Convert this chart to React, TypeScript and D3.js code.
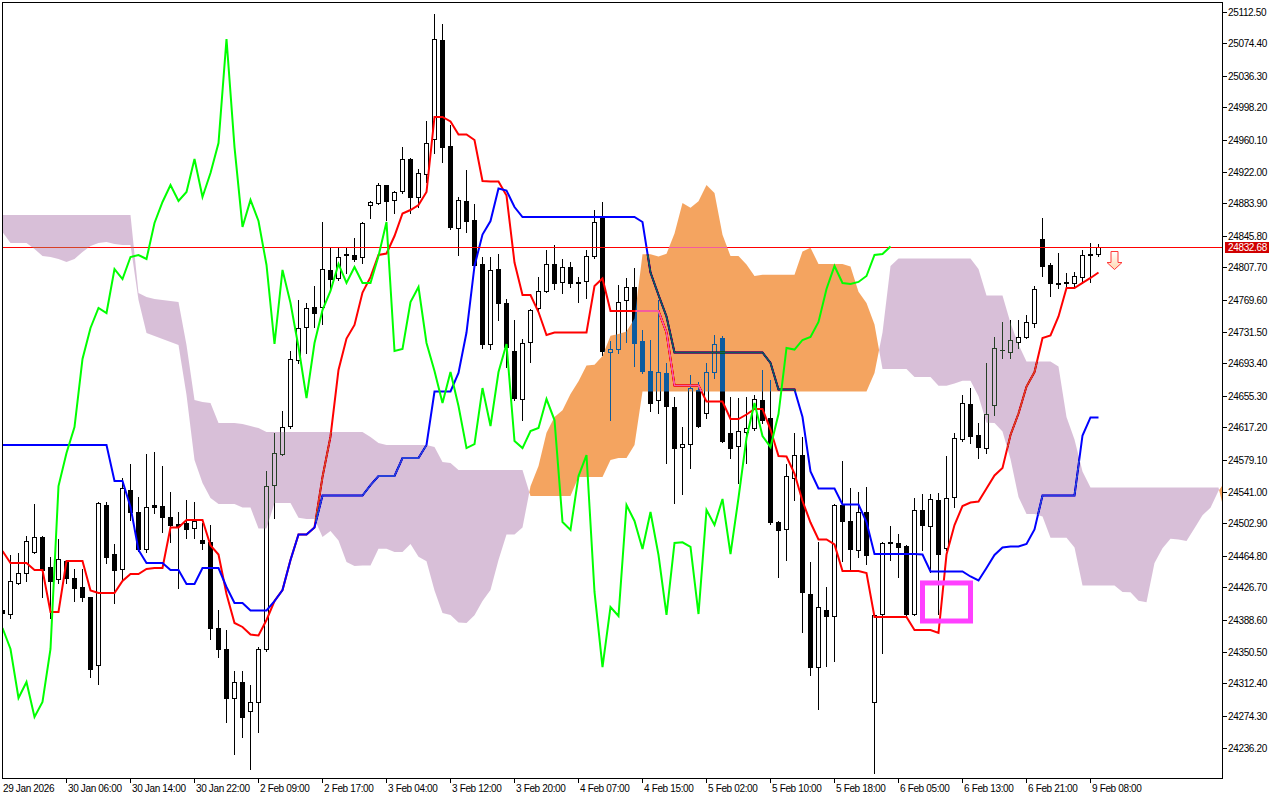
import React from "react";
import * as d3 from "d3";

// ---------- Candles (H1), bar 0 = 29 Jan 2026 22:00 ----------
const OPEN = [
  24399.9, 24395.1, 24432.1, 24444.0, 24469.0, 24486.8, 24451.1, 24436.8, 24458.3, 24438.0,
  24427.3, 24415.4, 24334.4, 24524.9, 24466.6, 24448.7, 24542.7, 24516.6, 24472.6, 24524.9,
  24523.8, 24510.7, 24502.3, 24503.5, 24497.6, 24483.3, 24480.9, 24378.5, 24353.5, 24295.1,
  24314.2, 24279.7, 24290.4, 24353.5, 24548.7, 24585.6, 24618.9, 24697.6, 24736.9, 24760.7,
  24760.7, 24804.8, 24795.2, 24823.8, 24822.6, 24820.2, 24882.1, 24884.5, 24905.9, 24888.1,
  24898.8, 24936.9, 24891.6, 24919.0, 24960.7, 25078.6, 24952.3, 24854.8, 24886.9, 24864.3,
  24811.9, 24716.6, 24805.9, 24765.4, 24708.3, 24651.1, 24719.0, 24759.5, 24779.8, 24811.9,
  24790.5, 24808.3, 24790.5, 24791.7, 24821.4, 24867.9, 24707.1, 24710.7, 24769.0, 24784.5,
  24720.2, 24684.5, 24649.9, 24682.1, 24641.6, 24593.9, 24597.5, 24661.8, 24634.4, 24683.3,
  24723.8, 24610.6, 24595.1, 24611.8, 24616.6, 24649.9, 24628.5, 24504.7, 24496.4, 24557.0,
  24584.4, 24419.0, 24332.0, 24399.9, 24392.8, 24524.9, 24505.9, 24471.4, 24516.6, 24290.4,
  24395.1, 24479.7, 24479.7, 24476.2, 24395.1, 24519.0, 24499.9, 24530.9, 24473.8, 24534.4,
  24603.5, 24645.1, 24608.2, 24592.7, 24644.0, 24709.5, 24707.1, 24719.0, 24725.0, 24741.6,
  24841.7, 24810.7, 24789.3, 24789.3, 24789.3, 24796.4, 24822.6, 24823.8,
];
const HIGH = [
  24404.7, 24465.4, 24467.8, 24488.0, 24526.1, 24488.0, 24463.0, 24484.5, 24460.0, 24448.7,
  24448.7, 24415.4, 24528.5, 24528.5, 24478.5, 24557.0, 24573.7, 24534.4, 24585.6, 24588.0,
  24571.3, 24540.4, 24516.6, 24530.9, 24528.5, 24503.5, 24501.1, 24399.9, 24376.1, 24327.3,
  24327.3, 24310.6, 24355.8, 24565.4, 24610.6, 24636.8, 24708.3, 24769.0, 24765.4, 24785.7,
  24861.9, 24832.1, 24832.1, 24832.1, 24842.9, 24861.9, 24886.5, 24908.3, 24906.5, 24898.8,
  24951.1, 24938.1, 24925.0, 24982.1, 25109.5, 25097.6, 24977.3, 24891.6, 24923.8, 24883.3,
  24820.2, 24820.2, 24823.8, 24770.2, 24745.2, 24722.6, 24758.0, 24796.4, 24828.6, 24834.5,
  24817.9, 24814.3, 24796.4, 24828.6, 24876.2, 24885.7, 24720.2, 24786.9, 24795.2, 24807.1,
  24733.3, 24721.4, 24769.0, 24694.0, 24653.5, 24617.8, 24679.7, 24671.3, 24694.0, 24727.3,
  24726.1, 24653.5, 24652.3, 24653.5, 24655.9, 24685.7, 24673.7, 24505.5, 24573.7, 24610.6,
  24605.9, 24457.1, 24480.9, 24427.3, 24526.1, 24577.3, 24545.1, 24540.4, 24546.3, 24395.0,
  24480.5, 24499.9, 24490.4, 24477.4, 24533.3, 24538.0, 24538.0, 24539.2, 24583.2, 24610.6,
  24655.9, 24664.2, 24622.5, 24694.0, 24725.0, 24742.8, 24745.2, 24745.2, 24751.1, 24785.7,
  24866.7, 24813.1, 24825.0, 24801.2, 24802.4, 24828.6, 24837.0, 24835.8,
];
const LOW = [
  24392.8, 24390.4, 24430.9, 24434.5, 24467.8, 24415.4, 24390.4, 24432.1, 24432.1, 24410.6,
  24410.6, 24320.1, 24311.8, 24455.9, 24408.2, 24436.8, 24507.1, 24470.2, 24469.0, 24515.4,
  24492.8, 24480.9, 24426.1, 24485.7, 24485.7, 24472.6, 24365.4, 24343.9, 24266.6, 24228.5,
  24248.7, 24210.6, 24254.7, 24351.1, 24509.5, 24584.4, 24616.6, 24694.0, 24705.9, 24736.9,
  24740.4, 24782.1, 24792.9, 24801.2, 24815.5, 24813.1, 24866.7, 24883.3, 24864.3, 24872.6,
  24896.4, 24872.6, 24879.8, 24909.5, 24944.0, 24933.3, 24853.6, 24822.6, 24850.0, 24809.5,
  24711.9, 24710.7, 24745.2, 24689.2, 24649.9, 24626.1, 24695.2, 24757.1, 24778.6, 24782.1,
  24777.4, 24784.5, 24766.6, 24771.4, 24819.0, 24703.5, 24626.1, 24705.9, 24719.0, 24690.4,
  24682.1, 24636.8, 24634.4, 24574.9, 24527.3, 24538.0, 24568.9, 24617.8, 24628.5, 24676.1,
  24599.9, 24580.8, 24551.1, 24574.9, 24614.2, 24622.5, 24502.3, 24439.2, 24459.5, 24530.9,
  24373.7, 24322.5, 24282.1, 24333.2, 24339.2, 24458.3, 24448.7, 24463.0, 24454.7, 24205.9,
  24348.7, 24459.5, 24439.2, 24391.6, 24394.0, 24471.4, 24445.2, 24395.1, 24471.4, 24522.6,
  24601.1, 24598.7, 24580.8, 24586.8, 24632.0, 24699.9, 24699.9, 24711.9, 24723.8, 24736.9,
  24797.6, 24773.8, 24783.3, 24784.5, 24783.3, 24789.3, 24790.5, 24821.4,
];
const CLOSE = [
  24396.3, 24434.5, 24444.0, 24482.1, 24486.8, 24447.6, 24434.5, 24460.7, 24438.0, 24426.1,
  24415.4, 24329.6, 24527.3, 24463.0, 24447.6, 24545.1, 24516.6, 24472.6, 24522.6, 24522.6,
  24510.7, 24501.1, 24499.9, 24496.4, 24505.9, 24479.7, 24378.5, 24353.5, 24295.1, 24314.2,
  24272.6, 24290.4, 24353.5, 24547.5, 24586.8, 24617.8, 24698.8, 24735.7, 24759.5, 24753.5,
  24805.9, 24794.0, 24820.2, 24822.6, 24817.9, 24860.7, 24885.7, 24905.9, 24886.9, 24897.6,
  24936.9, 24891.6, 24920.2, 24955.9, 25079.8, 24951.1, 24856.0, 24888.1, 24863.1, 24810.7,
  24716.6, 24804.8, 24765.4, 24713.0, 24652.3, 24717.8, 24757.1, 24779.8, 24811.9, 24789.3,
  24808.3, 24789.3, 24789.3, 24821.4, 24861.9, 24708.3, 24710.7, 24766.6, 24784.5, 24717.8,
  24684.5, 24646.3, 24683.3, 24642.8, 24592.7, 24597.5, 24664.2, 24618.9, 24683.3, 24716.6,
  24601.1, 24592.7, 24613.0, 24616.6, 24651.1, 24626.1, 24504.7, 24495.2, 24559.4, 24584.4,
  24421.4, 24332.0, 24403.5, 24392.8, 24524.9, 24505.9, 24472.6, 24516.6, 24465.4, 24394.0,
  24479.7, 24480.5, 24475.0, 24395.1, 24519.0, 24501.1, 24532.1, 24466.6, 24533.3, 24604.7,
  24646.3, 24607.1, 24593.9, 24633.2, 24711.9, 24710.0, 24721.4, 24725.0, 24742.8, 24782.1,
  24809.5, 24789.3, 24788.1, 24790.5, 24797.6, 24822.6, 24823.8, 24832.68,
];

// ---------- Ichimoku values that depend on bars before the visible window ----------
const TENKAN_PRIOR = [24470.2, 24455.9, 24455.9, 24455.9, 24447.6, 24447.6, 24397.5, 24397.5];
const KIJUN_PRIOR = [
  24596.3, 24596.3, 24596.3, 24596.3, 24596.3, 24596.3, 24596.3, 24596.3, 24596.3, 24596.3,
  24596.3, 24596.3, 24596.3, 24596.3, 24553.5, 24553.5, 24522.6, 24471.4, 24455.9, 24455.9,
  24455.9, 24447.6, 24447.6, 24430.9, 24430.9,
];
const SPAN_A_PRIOR = [
  24850.0, 24836.9, 24836.9, 24836.9, 24829.8, 24821.4, 24820.2, 24817.9, 24814.3, 24817.9,
  24826.2, 24833.3, 24836.9, 24838.1, 24835.7, 24834.5, 24834.5, 24769.0, 24729.7, 24726.1,
  24722.6, 24719.0, 24715.5, 24655.9, 24578.5, 24551.1,
];
const SPAN_B_PRIOR = [
  24870.2, 24870.2, 24870.2, 24870.2, 24870.2, 24870.2, 24870.2, 24870.2, 24870.2, 24870.2,
  24870.2, 24870.2, 24870.2, 24870.2, 24870.2, 24870.2, 24870.2, 24777.4, 24772.6, 24770.2,
  24769.0, 24767.8, 24766.6, 24715.5, 24649.9, 24647.5, 24646.3, 24622.5, 24622.5, 24622.5,
  24621.3, 24618.9, 24616.6, 24611.8, 24611.8, 24611.8, 24611.8, 24611.8, 24611.8, 24611.8,
  24611.8, 24611.8, 24611.8, 24611.8, 24611.8, 24611.8, 24605.9, 24598.7, 24596.3, 24596.3,
  24596.3, 24596.3, 24596.3, 24596.3, 24593.9, 24576.1, 24574.9, 24566.6, 24566.6, 24566.6,
  24566.6, 24566.6, 24566.6, 24566.6, 24566.6, 24566.6, 24535.7, 24535.7, 24535.7, 24535.7,
  24535.7, 24535.7, 24558.2, 24558.2, 24558.2, 24558.2, 24578.5,
];

// ---------- Axes ----------
const PRICE_TICKS = [
  25112.5, 25074.4, 25036.3, 24998.2, 24960.1, 24922.0, 24883.9, 24845.8, 24807.7, 24769.6,
  24731.5, 24693.4, 24655.3, 24617.2, 24579.1, 24541.0, 24502.9, 24464.8, 24426.7, 24388.6,
  24350.5, 24312.4, 24274.3, 24236.2,
];
const TIME_TICK_BARS = [0, 8, 16, 24, 32, 40, 48, 56, 64, 72, 80, 88, 96, 104, 112, 120, 128, 136];
const TIME_TICK_LABELS = [
  "29 Jan 2026", "30 Jan 06:00", "30 Jan 14:00", "30 Jan 22:00", "2 Feb 09:00", "2 Feb 17:00",
  "3 Feb 04:00", "3 Feb 12:00", "3 Feb 20:00", "4 Feb 07:00", "4 Feb 15:00", "5 Feb 02:00",
  "5 Feb 10:00", "5 Feb 18:00", "6 Feb 05:00", "6 Feb 13:00", "6 Feb 21:00", "9 Feb 08:00",
];
const LAST_PRICE = 24832.68;
const BOX_BARS = [115, 121];
const BOX_PRICES = [24432.1, 24386.8];
const ARROW_BAR = 139;
const ARROW_PRICE = 24827.4;

// ---------- Layout ----------
const W = 1280;
const H = 800;
const PLOT_R = 1222;
const PLOT_B = 778;
const FONT = "'Liberation Sans', Arial, sans-serif";

const x = d3.scaleLinear().domain([0, 1]).range([2.5, 10.5]);
const y = d3.scaleLinear().domain([24236.2, 25112.5]).range([747.5, 11.5]);

const hh = (a: number, b: number) => d3.max(HIGH.slice(a, b + 1)) as number;
const ll = (a: number, b: number) => d3.min(LOW.slice(a, b + 1)) as number;

const N = CLOSE.length;
const tenkan = d3.range(N).map((i) => (i < 8 ? TENKAN_PRIOR[i] : (hh(i - 8, i) + ll(i - 8, i)) / 2));
const kijun = d3.range(N).map((i) => (i < 25 ? KIJUN_PRIOR[i] : (hh(i - 25, i) + ll(i - 25, i)) / 2));
const M = N + 26;
const spanA = d3.range(M).map((k) => (k < 26 ? SPAN_A_PRIOR[k] : (tenkan[k - 26] + kijun[k - 26]) / 2));
const spanB = d3.range(M).map((k) => (k < 77 ? SPAN_B_PRIOR[k] : (hh(k - 77, k - 26) + ll(k - 77, k - 26)) / 2));
const chikou = d3.range(N - 26).map((k) => CLOSE[k + 26]);

type CP = { k: number; a: number; b: number };
function buildRuns(A: number[], B: number[]) {
  const runs: { bull: boolean; pts: CP[] }[] = [];
  let bull = A[0] >= B[0];
  let pts: CP[] = [{ k: 0, a: A[0], b: B[0] }];
  for (let i = 1; i < A.length; i++) {
    const d0 = A[i - 1] - B[i - 1];
    const d1 = A[i] - B[i];
    const b1 = d1 >= 0;
    if (b1 !== bull) {
      const t = d0 === d1 ? 0 : d0 / (d0 - d1);
      const kc = i - 1 + t;
      const vc = A[i - 1] + (A[i] - A[i - 1]) * t;
      pts.push({ k: kc, a: vc, b: vc });
      runs.push({ bull, pts });
      pts = [{ k: kc, a: vc, b: vc }];
      bull = b1;
    }
    pts.push({ k: i, a: A[i], b: B[i] });
  }
  runs.push({ bull, pts });
  return runs;
}

const cloudRuns = buildRuns(spanA, spanB);
const runPath = (pts: CP[]) => {
  const top = pts.map((p) => [x(p.k), y(p.a)]);
  const bot = pts.slice().reverse().map((p) => [x(p.k), y(p.b)]);
  return "M" + [...top, ...bot].map((p) => p[0].toFixed(2) + "," + p[1].toFixed(2)).join("L") + "Z";
};

const lineGen = d3
  .line<number>()
  .x((_, i) => x(i))
  .y((d) => y(d));

export default function App() {
  const lastRow = Math.round(y(LAST_PRICE));
  const ax = x(ARROW_BAR);
  const ay = Math.round(y(ARROW_PRICE));
  const bx0 = x(BOX_BARS[0]);
  const bx1 = x(BOX_BARS[1]);
  const by0 = y(BOX_PRICES[0]);
  const by1 = y(BOX_PRICES[1]);

  return (
    <div style={{ position: "absolute", left: 0, top: 0, width: W, height: H, background: "#fff" }}>
      <svg width={W} height={H} style={{ display: "block" }}>
        <defs>
          <clipPath id="plotClip">
            <rect x={3} y={3} width={PLOT_R - 3} height={PLOT_B - 3} />
          </clipPath>
          <linearGradient id="arrowFill" x1="0" y1="0" x2="0" y2="1">
            <stop offset="0" stopColor="#ffffff" />
            <stop offset="1" stopColor="#ffd7b0" />
          </linearGradient>
        </defs>
        <rect x={0} y={0} width={W} height={H} fill="#ffffff" />

        <g clipPath="url(#plotClip)">
          {/* opaque white backdrop inside the clipped group so the blend has something to work on */}
          <rect x={0} y={0} width={W} height={H} fill="#ffffff" />

          {/* candles */}
          <g shapeRendering="crispEdges">
            {OPEN.map((o, i) => {
              const c = CLOSE[i];
              const cx = x(i);
              const yH = Math.round(y(HIGH[i]));
              const yL = Math.round(y(LOW[i]));
              const yT = Math.round(y(Math.max(o, c)));
              const yB = Math.round(y(Math.min(o, c)));
              const bull = c >= o;
              let body;
              if (yB - yT < 1) {
                body = <rect x={cx - 2.5} y={yT} width={5} height={1} fill="#000" />;
              } else if (bull) {
                body = <rect x={cx - 2} y={yT + 0.5} width={4} height={yB - yT} fill="#fff" stroke="#000" strokeWidth={1} />;
              } else {
                body = <rect x={cx - 2.5} y={yT} width={5} height={yB - yT + 1} fill="#000" />;
              }
              return (
                <g key={i}>
                  <line x1={cx} x2={cx} y1={yH} y2={yL + 1} stroke="#000" strokeWidth={1} />
                  {body}
                </g>
              );
            })}
          </g>

          {/* tenkan & kijun */}
          <path d={lineGen(tenkan) || ""} fill="none" stroke="#ff0000" strokeWidth={2} />
          <path d={lineGen(kijun) || ""} fill="none" stroke="#0000ff" strokeWidth={2} />

          {/* last price line */}
          <rect x={2} y={lastRow} width={PLOT_R - 2} height={1} fill="#ff0000" shapeRendering="crispEdges" />

          {/* kumo cloud drawn in XOR-like difference mode */}
          {cloudRuns.map((r, i) => (
            <path
              key={i}
              d={runPath(r.pts)}
              fill={r.bull ? "#0B5B9F" : "#274027"}
              style={{ mixBlendMode: "difference" }}
            />
          ))}

          {/* chikou */}
          <path d={lineGen(chikou) || ""} fill="none" stroke="#00ff00" strokeWidth={2} />

          {/* rectangle object */}
          <rect x={bx0} y={by0} width={bx1 - bx0} height={by1 - by0} fill="none" stroke="#ff40ff" strokeWidth={5} />

          {/* sell arrow */}
          <path
            d={`M${ax - 3.5},${ay + 0.5} H${ax + 3.5} V${ay + 11.5} H${ax + 7.5} L${ax},${ay + 18.5} L${ax - 7.5},${ay + 11.5} H${ax - 3.5} Z`}
            fill="url(#arrowFill)"
            stroke="#ff3a3a"
            strokeWidth={1}
          />
        </g>

        {/* frame */}
        <rect x={2.5} y={2.5} width={PLOT_R - 2} height={PLOT_B - 2} fill="none" stroke="#000" strokeWidth={1} shapeRendering="crispEdges" />

        {/* price axis */}
        <g fontFamily={FONT} fontSize={10} letterSpacing={-0.35} fill="#000">
          {PRICE_TICKS.map((p, i) => {
            const ty = Math.round(y(p)) + 0.5;
            return (
              <g key={i}>
                <line x1={PLOT_R} x2={PLOT_R + 5} y1={ty} y2={ty} stroke="#000" shapeRendering="crispEdges" />
                <text x={1228} y={ty + 3.5}>{p.toFixed(2)}</text>
              </g>
            );
          })}
        </g>

        {/* last price label */}
        <rect x={1225} y={lastRow - 5} width={44} height={11} fill="#d00000" />
        <text x={1228} y={lastRow + 4} fontFamily={FONT} fontSize={10} letterSpacing={-0.35} fill="#ffffff">
          {LAST_PRICE.toFixed(2)}
        </text>

        {/* time axis */}
        <g fontFamily={FONT} fontSize={10} letterSpacing={-0.35} fill="#000">
          {TIME_TICK_BARS.map((b, i) => {
            const tx = x(b);
            return (
              <g key={i}>
                {i > 0 && <line x1={tx} x2={tx} y1={PLOT_B} y2={PLOT_B + 5} stroke="#000" shapeRendering="crispEdges" />}
                <text x={i === 0 ? 3 : tx + 1.5} y={792}>{TIME_TICK_LABELS[i]}</text>
              </g>
            );
          })}
        </g>
      </svg>
    </div>
  );
}
